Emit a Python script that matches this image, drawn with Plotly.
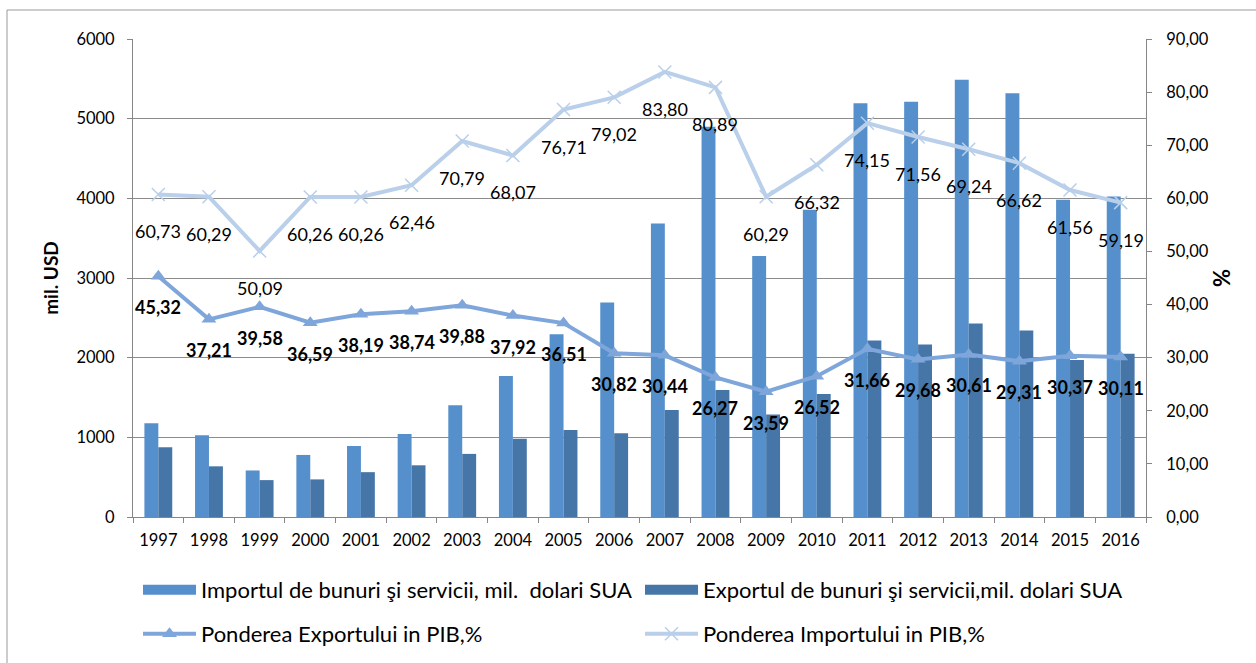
import plotly.graph_objects as go

years = [str(y) for y in range(1997, 2017)]
import_usd = [1177, 1026, 584, 779, 892, 1043, 1403, 1771, 2294, 2693,
              3684, 4900, 3277, 3857, 5195, 5212, 5489, 5320, 3983, 4022]
export_usd = [874, 636, 463, 472, 563, 649, 792, 983, 1091, 1052,
              1342, 1593, 1286, 1545, 2216, 2165, 2429, 2342, 1970, 2048]
export_pct = [45.32, 37.21, 39.58, 36.59, 38.19, 38.74, 39.88, 37.92, 36.51, 30.82,
              30.44, 26.27, 23.59, 26.52, 31.66, 29.68, 30.61, 29.31, 30.37, 30.11]
import_pct = [60.73, 60.29, 50.09, 60.26, 60.26, 62.46, 70.79, 68.07, 76.71, 79.02,
              83.80, 80.89, 60.29, 66.32, 74.15, 71.56, 69.24, 66.62, 61.56, 59.19]

names = ["Importul de bunuri şi servicii, mil.  dolari SUA",
         "Exportul de bunuri şi servicii,mil. dolari SUA",
         "Ponderea Exportului in PIB,%",
         "Ponderea Importului in PIB,%"]

FONT = "Lato"
C_IMP_BAR = "#5590CC"
C_EXP_BAR = "#4676A8"
C_EXP_LINE = "#7FA6DA"
C_IMP_LINE = "#B9CFEA"

fig = go.Figure()
fig.add_trace(go.Bar(x=years, y=import_usd, name=names[0], marker_color=C_IMP_BAR,
                     marker_line_width=0, showlegend=False))
fig.add_trace(go.Bar(x=years, y=export_usd, name=names[1], marker_color=C_EXP_BAR,
                     marker_line_width=0, showlegend=False))
fig.add_trace(go.Scatter(x=years, y=export_pct, name=names[2], yaxis="y2",
                         mode="lines+markers", legend="legend3",
                         line=dict(color=C_EXP_LINE, width=4),
                         marker=dict(symbol="triangle-up", size=13, color=C_EXP_LINE)))
fig.add_trace(go.Scatter(x=years, y=import_pct, name=names[3], yaxis="y2",
                         mode="lines+markers", legend="legend4",
                         line=dict(color=C_IMP_LINE, width=4),
                         marker=dict(symbol="x-thin", size=13,
                                     line=dict(color=C_IMP_LINE, width=1.5))))
# legend-only swatches for the bar series (wide rectangles as in the reference)
fig.add_trace(go.Scatter(x=[None], y=[None], name=names[0], mode="lines", legend="legend",
                         line=dict(color=C_IMP_BAR, width=14), hoverinfo="skip"))
fig.add_trace(go.Scatter(x=[None], y=[None], name=names[1], mode="lines", legend="legend2",
                         line=dict(color=C_EXP_BAR, width=14), hoverinfo="skip"))

annotations = []
for i, v in enumerate(import_pct):
    annotations.append(dict(x=i, y=v, xref="x", yref="y2", text=f"{v:.2f}".replace(".", ","),
                            showarrow=False, yshift=-37,
                            font=dict(family=FONT, size=18, color="black")))
for i, v in enumerate(export_pct):
    annotations.append(dict(x=i, y=v, xref="x", yref="y2", text=f"<b>{v:.2f}</b>".replace(".", ","),
                            showarrow=False, yshift=-31,
                            font=dict(family=FONT, size=18, color="black")))

W, H = 1256, 663
L, R, T, B = 133, 110, 39, 146
pw, ph = W - L - R, H - T - B

def px_x(p):
    return (p - L) / pw

def px_y(p):
    return (H - B - p) / ph

def leg(xp, yp):
    return dict(orientation="h", x=px_x(xp), xanchor="left", y=px_y(yp), yanchor="middle",
                font=dict(family=FONT, size=22, color="black"), itemwidth=53,
                bgcolor="rgba(0,0,0,0)", borderwidth=0)

fig.update_layout(
    width=W, height=H,
    margin=dict(l=L, r=R, t=T, b=B, autoexpand=False),
    paper_bgcolor="white", plot_bgcolor="white",
    separators=",.",
    font=dict(family=FONT, size=16, color="black"),
    barmode="group", bargap=0.45, bargroupgap=0,
    showlegend=True,
    legend=leg(138, 590), legend2=leg(640, 590),
    legend3=leg(138, 634), legend4=leg(640, 634),
    xaxis=dict(type="category", range=[-0.5, len(years) - 0.5],
               showgrid=False, showline=True, linecolor="#868686",
               ticks="outside", tickson="boundaries", ticklen=5, tickcolor="#868686",
               tickfont=dict(size=16.5), tickangle=0, ticklabelstandoff=8),
    yaxis=dict(range=[0, 6000], dtick=1000, tickformat="d", showgrid=True,
               gridcolor="#8C8C8C", gridwidth=1, showline=True, linecolor="#868686",
               ticks="outside", ticklen=5, tickcolor="#868686", ticklabelstandoff=9,
               title=dict(text="<b>mil. USD</b>", font=dict(size=19), standoff=12),
               tickfont=dict(size=16.5), zeroline=False),
    yaxis2=dict(range=[0, 90], dtick=10, tickformat=".2f", overlaying="y", side="right",
                showgrid=False, showline=True, linecolor="#868686",
                ticks="outside", ticklen=5, tickcolor="#868686", ticklabelstandoff=11,
                title=dict(text="<b>%</b>", font=dict(size=22), standoff=6),
                tickfont=dict(size=16.5), zeroline=False),
    annotations=annotations,
    shapes=[dict(type="rect", xref="paper", yref="paper",
                 x0=px_x(7), x1=px_x(W + 20),
                 y0=px_y(H + 20), y1=px_y(10),
                 line=dict(color="#999999", width=1), fillcolor="rgba(0,0,0,0)",
                 layer="below")],
)

fig.write_html("out.html", config={"displayModeBar": False},
               post_script="document.body.style.margin='0px';document.body.style.overflow='hidden';")
